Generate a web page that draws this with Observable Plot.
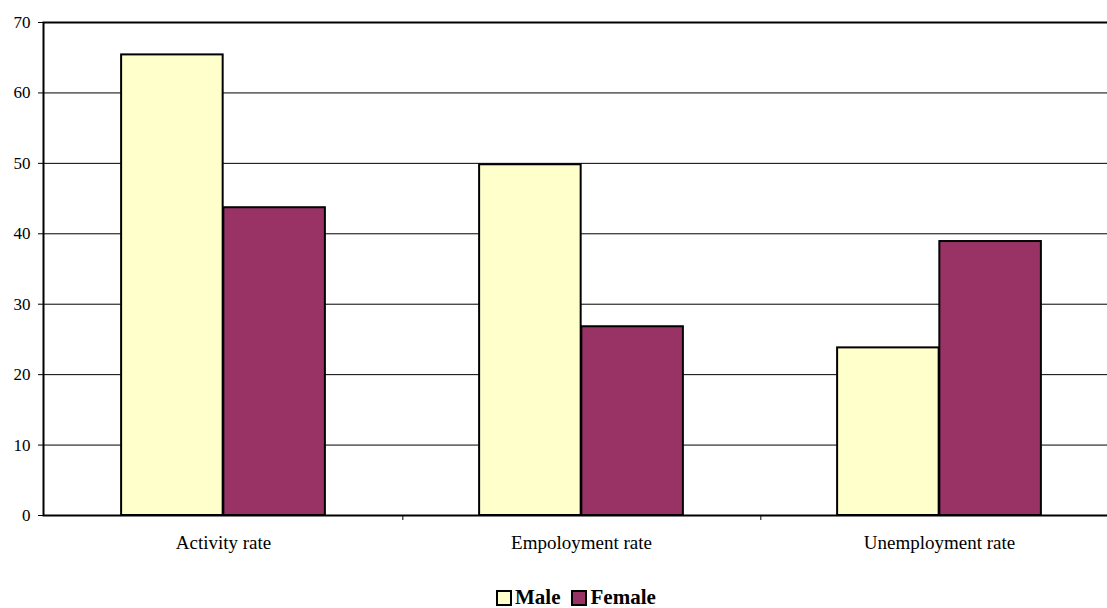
<!DOCTYPE html>
<html>
<head>
<meta charset="utf-8">
<script src="https://cdn.jsdelivr.net/npm/d3@7"></script>
<script src="https://cdn.jsdelivr.net/npm/@observablehq/plot@0.6"></script>
<style>
  html, body { margin: 0; padding: 0; background: #fff; }
  body { width: 1107px; height: 608px; overflow: hidden; position: relative; }
  #chart svg { display: block; max-width: none !important; }
  .legend { position: absolute; left: 496px; top: 587px; display: flex; align-items: center;
    font-family: "Liberation Serif", "DejaVu Serif", serif; font-weight: bold; font-size: 21px; line-height: 21px; color: #000; }
  .legend .item { display: flex; align-items: center; margin-right: 11px; }
  .legend .sw { width: 12px; height: 12px; border: 2px solid #000; margin-right: 3px; }
</style>
</head>
<body>
<div id="chart"></div>
<div class="legend" id="legend"></div>
<script>
// Labour-market indicators by sex (%)
const categories = ["Activity rate", "Empoloyment rate", "Unemployment rate"];
const seriesNames = ["Male", "Female"];
const maleValues = [65.4, 49.8, 23.8];
const femaleValues = [43.7, 26.8, 38.9];
const seriesColors = ["#FFFFCC", "#993366"];
const yTicks = [0, 10, 20, 30, 40, 50, 60, 70];

const rows = [];
categories.forEach((c, i) => {
  rows.push({category: c, sex: "Male", value: maleValues[i]});
  rows.push({category: c, sex: "Female", value: femaleValues[i]});
});

const width = 1120, marginLeft = 43, marginRight = 1;
const band = (width - marginLeft - marginRight) / categories.length;

const color = {domain: seriesNames, range: seriesColors};

const chart = Plot.plot({
  width,
  height: 570,
  marginLeft,
  marginRight,
  marginTop: 22,
  marginBottom: 55,
  style: {fontFamily: "Liberation Serif, DejaVu Serif, serif", fontSize: "17px", color: "#000", background: "#fff", maxWidth: "none"},
  x: {domain: categories, padding: 0},
  y: {domain: [0, 70]},
  color,
  marks: [
    Plot.gridY(yTicks, {stroke: "#000", strokeOpacity: 1, strokeWidth: 1}),
    // grouped bars: male on the left half of each category, female on the right
    Plot.barY(rows.filter(d => d.sex === "Male"), {
      x: "category", y: "value", fill: "sex", stroke: "#000", strokeWidth: 2,
      insetLeft: band * 0.215, insetRight: band * 0.5
    }),
    Plot.barY(rows.filter(d => d.sex === "Female"), {
      x: "category", y: "value", fill: "sex", stroke: "#000", strokeWidth: 2,
      insetLeft: band * 0.5, insetRight: band * 0.215
    }),
    Plot.frame({stroke: "#000", strokeWidth: 2}),
    Plot.axisY({ticks: yTicks, tickSize: 5, tickPadding: 8, label: null, stroke: "#000"}),
    Plot.axisX({tickSize: 0, tickPadding: 20, fontSize: 19, label: null}),
    // tick marks on the category boundaries
    Plot.axisX({tickSize: 5, dx: band / 2, tickFormat: () => "", label: null, stroke: "#000"})
  ]
});
document.getElementById("chart").appendChild(chart);

// legend
const legend = document.getElementById("legend");
seriesNames.forEach((name, i) => {
  const item = document.createElement("div");
  item.className = "item";
  const sw = document.createElement("span");
  sw.className = "sw";
  sw.style.background = seriesColors[i];
  const label = document.createElement("span");
  label.textContent = name;
  item.appendChild(sw);
  item.appendChild(label);
  legend.appendChild(item);
});
</script>
</body>
</html>
